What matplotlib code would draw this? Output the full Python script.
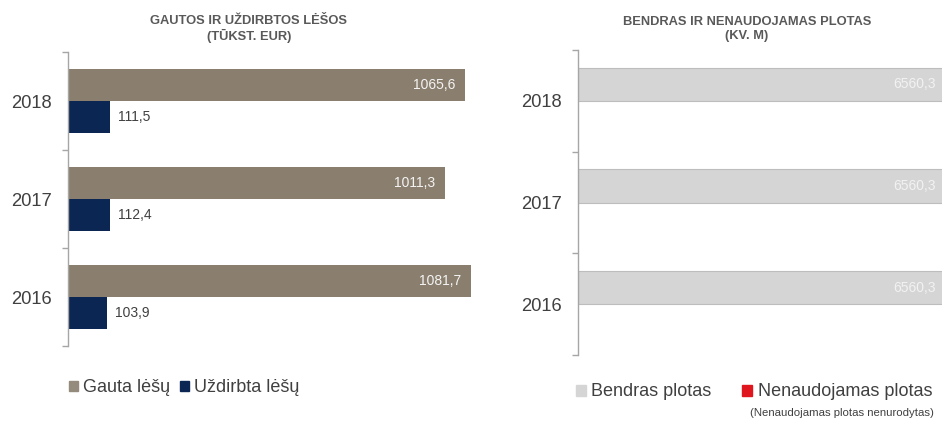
import numpy as np
import matplotlib.pyplot as plt
from matplotlib.patches import Patch

plt.rcParams['font.family'] = ['Liberation Sans', 'DejaVu Sans']

# --- dati ---
years = ['2016', '2017', '2018']
gauta = [1081.7, 1011.3, 1065.6]
uzdirbta = [103.9, 112.4, 111.5]
bendras = [6560.3, 6560.3, 6560.3]
nenaudojamas = [0.0, 0.0, 0.0]   # nenurodytas

c_gauta = '#8a7f6e'
c_uzd = '#0c2654'
c_bendras = '#d5d5d5'
c_nen = '#e0161f'
c_text = '#404040'
c_axis = '#a6a6a6'

fig = plt.figure(figsize=(9.42, 4.21), dpi=100)
W, H = 942, 421

def px_axes(x0, y0, x1, y1):
    return fig.add_axes([x0 / W, 1 - y1 / H, (x1 - x0) / W, (y1 - y0) / H])

def style_axes(ax):
    for s in ['top', 'right', 'bottom']:
        ax.spines[s].set_visible(False)
    ax.spines['left'].set_color(c_axis)
    ax.spines['left'].set_linewidth(1.0)
    ax.set_xticks([])
    ax.set_ylim(-0.5, 2.5)
    ax.set_yticks(np.arange(3))
    ax.set_yticklabels(years, fontsize=13.2, color=c_text)
    ax.set_yticks(np.arange(-0.5, 3.0, 1.0), minor=True)
    ax.tick_params(axis='y', which='major', length=0, pad=11.5)
    ax.tick_params(axis='y', which='minor', length=4, color=c_axis, width=1.0)

y = np.arange(len(years))
h = 0.327

# 1. Gautos ir uždirbtos lėšos
ax1 = px_axes(68, 52, 492, 346)
b1 = ax1.barh(y + h / 2, gauta, height=h, color=c_gauta)
b2 = ax1.barh(y - h / 2, uzdirbta, height=h, color=c_uzd)
ax1.set_xlim(0, 424 / 0.3726)
style_axes(ax1)
for yi, v in zip(y, gauta):
    ax1.annotate(f'{v:.1f}'.replace('.', ','), (v, yi + h / 2), xytext=(-10, 0),
                 textcoords='offset pixels', ha='right', va='center',
                 fontsize=10, color='#f4f4f4')
for yi, v in zip(y, uzdirbta):
    ax1.annotate(f'{v:.1f}'.replace('.', ','), (v, yi - h / 2), xytext=(8, 0),
                 textcoords='offset pixels', ha='left', va='center',
                 fontsize=10, color=c_text)

# 2. Bendras ir nenaudojamas plotas
ax2 = px_axes(578, 50, 942, 355)
b3 = ax2.barh(y + h / 2, bendras, height=h, color=c_bendras,
              edgecolor='#bdbdbd', linewidth=0.8)
b4 = ax2.barh(y - h / 2, nenaudojamas, height=h, color=c_nen)
ax2.set_xlim(0, 6500)
style_axes(ax2)
for yi, v in zip(y, bendras):
    ax2.annotate(f'{v:.1f}'.replace('.', ','), (v, yi + h / 2), xytext=(-10, 0),
                 textcoords='offset pixels', ha='right', va='center',
                 fontsize=10, color='#f2f2f2', annotation_clip=False)

# titoli
fig.text(249 / W, 1 - 29 / H, 'GAUTOS IR UŽDIRBTOS LĖŠOS\n(TŪKST. EUR)',
         ha='center', va='center', fontsize=9.3, fontweight='bold',
         color='#595959', linespacing=1.2)
fig.text(747 / W, 1 - 29 / H, 'BENDRAS IR NENAUDOJAMAS PLOTAS\n(KV. M)',
         ha='center', va='center', fontsize=9.3, fontweight='bold',
         color='#595959', linespacing=1.2)

# legende
fig.legend([Patch(color='#948b7c'), Patch(color=c_uzd)],
           ['Gauta lėšų', 'Uždirbta lėšų'], loc='center left',
           bbox_to_anchor=(69 / W, 1 - 388 / H), ncol=2, frameon=False,
           fontsize=13, handlelength=0.5, handleheight=0.5,
           handletextpad=0.3, columnspacing=0.5, borderpad=0, borderaxespad=0,
           labelcolor=c_text)
fig.legend([Patch(color=c_bendras), Patch(color=c_nen)],
           ['Bendras plotas', 'Nenaudojamas plotas'], loc='center left',
           bbox_to_anchor=(576 / W, 1 - 392 / H), ncol=2, frameon=False,
           fontsize=13, handlelength=0.55, handleheight=0.55,
           handletextpad=0.3, columnspacing=1.7, borderpad=0, borderaxespad=0,
           labelcolor=c_text)
fig.text(934 / W, 1 - 413 / H, '(Nenaudojamas plotas nenurodytas)',
         ha='right', va='center', fontsize=8.2, color=c_text)

plt.savefig('out.png', dpi=100)
